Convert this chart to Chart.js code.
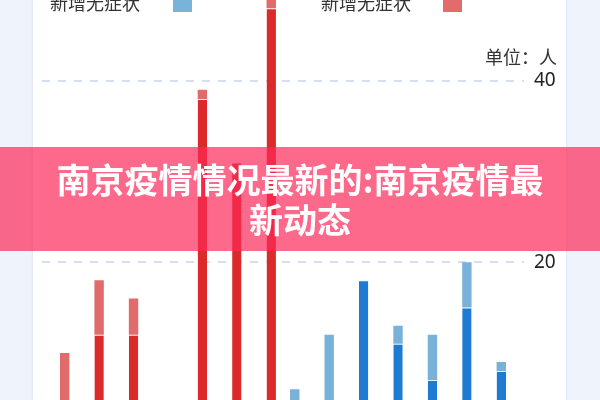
<!DOCTYPE html>
<html>
<head>
<meta charset="utf-8">
<script src="https://cdn.jsdelivr.net/npm/chart.js@4"></script>
<style>
  html, body { margin: 0; padding: 0; }
  body {
    width: 600px; height: 400px; overflow: hidden; position: relative;
    background: #eef3fc;
    font-family: "Noto Sans CJK SC", "Noto Sans", sans-serif;
  }
  #card {
    position: absolute; left: 33px; top: 0; width: 533px; height: 400px;
    background: #fff;
    box-shadow: 0 0 2px rgba(180, 195, 235, 0.6);
  }
  #wrap { position: absolute; left: 0; top: -122px; width: 600px; height: 587px; }
  .lg { position: absolute; top: -9px; font-size: 18px; line-height: 22px; color: #333; }
  .sw { position: absolute; top: -7px; width: 19px; height: 19px; }
  #unit { position: absolute; right: 43px; top: 44px; font-size: 18px; line-height: 24px; color: #333; }
  #banner {
    position: absolute; left: 0; top: 147px; width: 600px; height: 104px;
    background: rgba(252, 42, 88, 0.7);
    color: #fff; font-weight: bold; font-size: 34px; line-height: 40px;
    text-align: center; box-sizing: border-box; padding: 12px 40px 0;
  }
</style>
</head>
<body>
<div id="card"></div>
<div id="wrap"><canvas id="chart" width="600" height="587"></canvas></div>
<div class="lg" style="left:50px">新增无症状</div>
<div class="sw" style="left:173px;background:#78b3d9"></div>
<div class="lg" style="left:321px">新增无症状</div>
<div class="sw" style="left:443px;background:#e26b6b"></div>
<div id="unit">单位：人</div>
<div id="banner">南京疫情情况最新的:南京疫情最新动态</div>
<script>
// date slots (bottom of the chart is cut off, labels not visible)
const days = ["", "1", "2", "3", "4", "5", "6", "7", "8", "9", "10", "11", "12", "13", ""];
const redConfirmed = [0, 0, 12, 12, 0, 38, 31, 48, 0, 0, 0, 0, 0, 0, 0];
const redAsymptomatic = [0, 10, 6, 4, 0, 1, 0, 1, 0, 0, 0, 0, 0, 0, 0];
const blueConfirmed = [0, 0, 0, 0, 0, 0, 0, 0, 0, 18, 11, 7, 15, 8, 0];
const blueAsymptomatic = [0, 0, 0, 0, 0, 0, 0, 6, 12, 0, 2, 5, 5, 1, 0];
const yTicks = [0, 20, 40, 60];

const junction = { top: 1 };

new Chart(document.getElementById("chart").getContext("2d"), {
  type: "bar",
  data: {
    labels: days,
    datasets: [
      { label: "新增确诊", data: redConfirmed, backgroundColor: "#dc2a2b", stack: "red",
        borderColor: "rgba(255,235,225,0.8)", borderWidth: junction, borderSkipped: "bottom" },
      { label: "新增无症状", data: redAsymptomatic, backgroundColor: "#e16a6b", stack: "red", borderWidth: 0 },
      { label: "新增确诊", data: blueConfirmed, backgroundColor: "#1e7bd1", stack: "blue",
        borderColor: "rgba(225,240,255,0.8)", borderWidth: junction, borderSkipped: "bottom" },
      { label: "新增无症状", data: blueAsymptomatic, backgroundColor: "#79b2d8", stack: "blue", borderWidth: 0 },
    ],
  },
  options: {
    responsive: false,
    animation: false,
    layout: { padding: { left: 42, right: 40, top: 10, bottom: 10 } },
    datasets: { bar: { categoryPercentage: 1.365, barPercentage: 0.4 } },
    plugins: {
      legend: { display: false },
      tooltip: { enabled: false },
    },
    scales: {
      x: {
        stacked: true,
        offset: false,
        display: false,
        grid: { display: false },
      },
      y: {
        stacked: true,
        position: "right",
        min: yTicks[0],
        max: yTicks[yTicks.length - 1],
        afterBuildTicks: (axis) => { axis.ticks = yTicks.map((v) => ({ value: v })); },
        afterFit: (axis) => { axis.width = 36; },
        ticks: {
          padding: 10,
          color: "#222",
          font: { family: "Noto Sans", size: 19 },
        },
        grid: { color: "#d6ddf6", lineWidth: 2, drawTicks: false },
        border: { display: false, dash: [8, 8] },
      },
    },
  },
});
</script>
</body>
</html>
